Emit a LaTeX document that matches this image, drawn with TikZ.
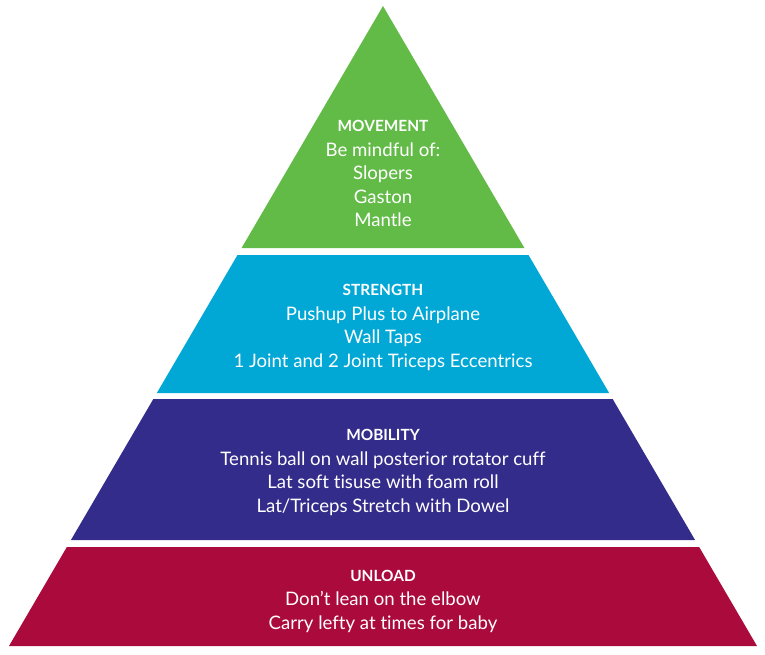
\documentclass[tikz,border=0pt]{standalone}
\usepackage{fontspec}
\setmainfont[RawFeature=-liga]{Lato}
\usetikzlibrary{positioning}

\definecolor{movegreen}{HTML}{62BB47}
\definecolor{strengthblue}{HTML}{02A8D5}
\definecolor{mobilitypurple}{HTML}{332C8A}
\definecolor{unloadred}{HTML}{AB0A3C}

\tikzset{
  tiertitle/.style={text=white, inner sep=0pt, font=\fontsize{15.4}{17}\selectfont\bfseries},
  tierbody/.style={text=white, inner sep=0pt, align=center, font=\fontsize{18.6}{23.5}\selectfont},
}

\begin{document}
\begin{tikzpicture}[x=1pt, y=-1pt]

      \useasboundingbox (0, 0) rectangle (765, 654);

      % the four tiers, cut out of one triangle with its apex at (383,6)
      \foreach \top/\bot/\col in {6/248/movegreen, 255/393/strengthblue, 399/540/mobilitypurple, 547/646/unloadred} {
          \fill[\col] ({383 - 0.584375*(\top - 6)}, \top) -- ({383 + 0.584375*(\top - 6)}, \top)
            -- ({383 + 0.584375*(\bot - 6)}, \bot) -- ({383 - 0.584375*(\bot - 6)}, \bot) -- cycle;
        }

      \node[tiertitle] (movement) at (383, 126) {MOVEMENT};
      \node[tierbody, below=10.5pt of movement] (movementlist) {Be mindful of:\\ Slopers\\ Gaston\\ Mantle};

      \node[tiertitle] (strength) at (383, 290) {STRENGTH};
      \node[tierbody, below=10.5pt of strength] (strengthlist) {Pushup Plus to Airplane\\ Wall Taps\\ 1 Joint and 2 Joint Triceps Eccentrics};

      \node[tiertitle] (mobility) at (383, 435) {MOBILITY};
      \node[tierbody, below=10.5pt of mobility] (mobilitylist) {Tennis ball on wall posterior rotator cuff\\ Lat soft tisuse with foam roll\\ Lat/Triceps Stretch with Dowel};

      \node[tiertitle] (unload) at (383, 576) {UNLOAD};
      \node[tierbody, below=9.5pt of unload] (unloadlist) {Don’t lean on the elbow\\ Carry lefty at times for baby};

    \end{tikzpicture}
\end{document}
